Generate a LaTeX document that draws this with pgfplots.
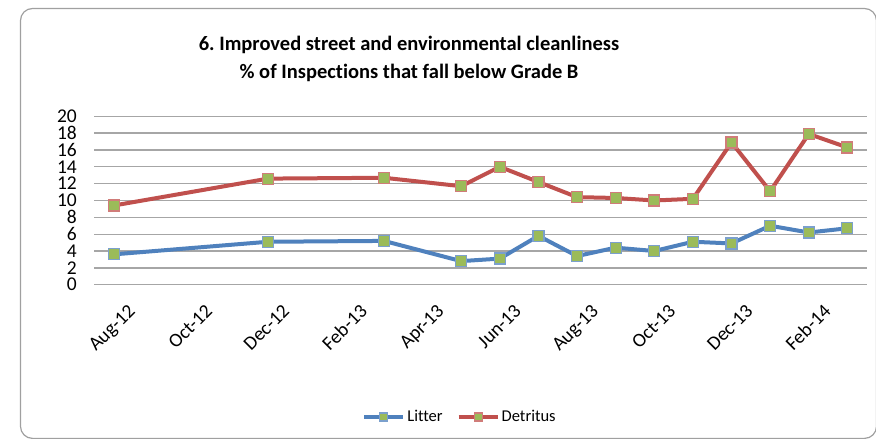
\documentclass[border=0pt]{standalone}
\usepackage{fontspec}
\setmainfont{Carlito}[Ligatures={NoCommon,NoRequired,NoContextual}]
\usepackage{pgfplots}
\usepackage{pgfplotstable}
\pgfplotsset{compat=1.18}
\definecolor{litter}{HTML}{4F81BD}
\definecolor{detritus}{HTML}{C0504D}
\definecolor{mk}{HTML}{9BBB59}
\definecolor{gridc}{HTML}{A6A6A6}
\definecolor{framec}{HTML}{A0A0A0}

% month index: 0 = Aug-12 ... 19 = Mar-14
\pgfplotstableread{
m  litter detritus
0  3.6    9.4
4  5.1    12.6
7  5.2    12.7
9  2.8    11.7
10 3.1    14.0
11 5.8    12.2
12 3.4    10.4
13 4.4    10.3
14 4.0    10.0
15 5.1    10.2
16 4.9    16.9
17 7.0    11.1
18 6.2    17.9
19 6.7    16.3
}\cleandata

\begin{document}
\frenchspacing
\begin{tikzpicture}
\useasboundingbox (0,0) rectangle (876pt,439pt);
\draw[framec, line width=1.2pt, rounded corners=12pt] (20.5pt,0.6pt) rectangle (876.5pt,430.5pt);
\node[font=\fontsize{20.5}{24}\selectfont\bfseries, anchor=base, inner sep=0pt] at (409pt,388.3pt) {6. Improved street and environmental cleanliness};
\node[font=\fontsize{20.5}{24}\selectfont\bfseries, anchor=base, inner sep=0pt] at (409pt,360.7pt) {\% of Inspections that fall below Grade B};
\begin{axis}[
  at={(94.3pt,154.3pt)}, anchor=south west,
  scale only axis, width=772.4pt, height=168.4pt,
  xmin=-0.5, xmax=19.5, ymin=0, ymax=20,
  xtick={0,2,...,18},
  xticklabels={Aug-12,Oct-12,Dec-12,Feb-13,Apr-13,Jun-13,Aug-13,Oct-13,Dec-13,Feb-14},
  ytick={0,2,...,20},
  ymajorgrids, major grid style={gridc, line width=1.3pt},
  axis line style={draw=none},
  major tick length=0pt,
  /pgf/number format/assume math mode=true,
  tick label style={font=\fontsize{19.5}{22}\selectfont},
  yticklabel style={anchor=east, xshift=-14pt},
  xticklabel style={rotate=45, anchor=north east, xshift=0pt, yshift=-19pt},
  legend style={at={(0.4735,-0.786)}, anchor=center, draw=none, fill=none,
    font=\fontsize{16.5}{19}\selectfont, legend columns=2,
    /tikz/every even column/.append style={column sep=12pt}},
  legend image code/.code={\draw[#1, mark size=4pt, mark repeat=2, mark phase=2] plot coordinates {(0pt,0pt) (19.5pt,0pt) (39pt,0pt)};},
]
\addplot[litter, line width=4pt, mark=square*, mark size=5.5pt,
  mark options={fill=mk, draw=litter!75!white, line width=1.2pt}]
  table[x=m, y=litter] {\cleandata};
\addlegendentry{Litter}
\addplot[detritus, line width=4pt, mark=square*, mark size=5.5pt,
  mark options={fill=mk, draw=detritus!75!white, line width=1.2pt}]
  table[x=m, y=detritus] {\cleandata};
\addlegendentry{Detritus}
\end{axis}
\end{tikzpicture}
\end{document}
